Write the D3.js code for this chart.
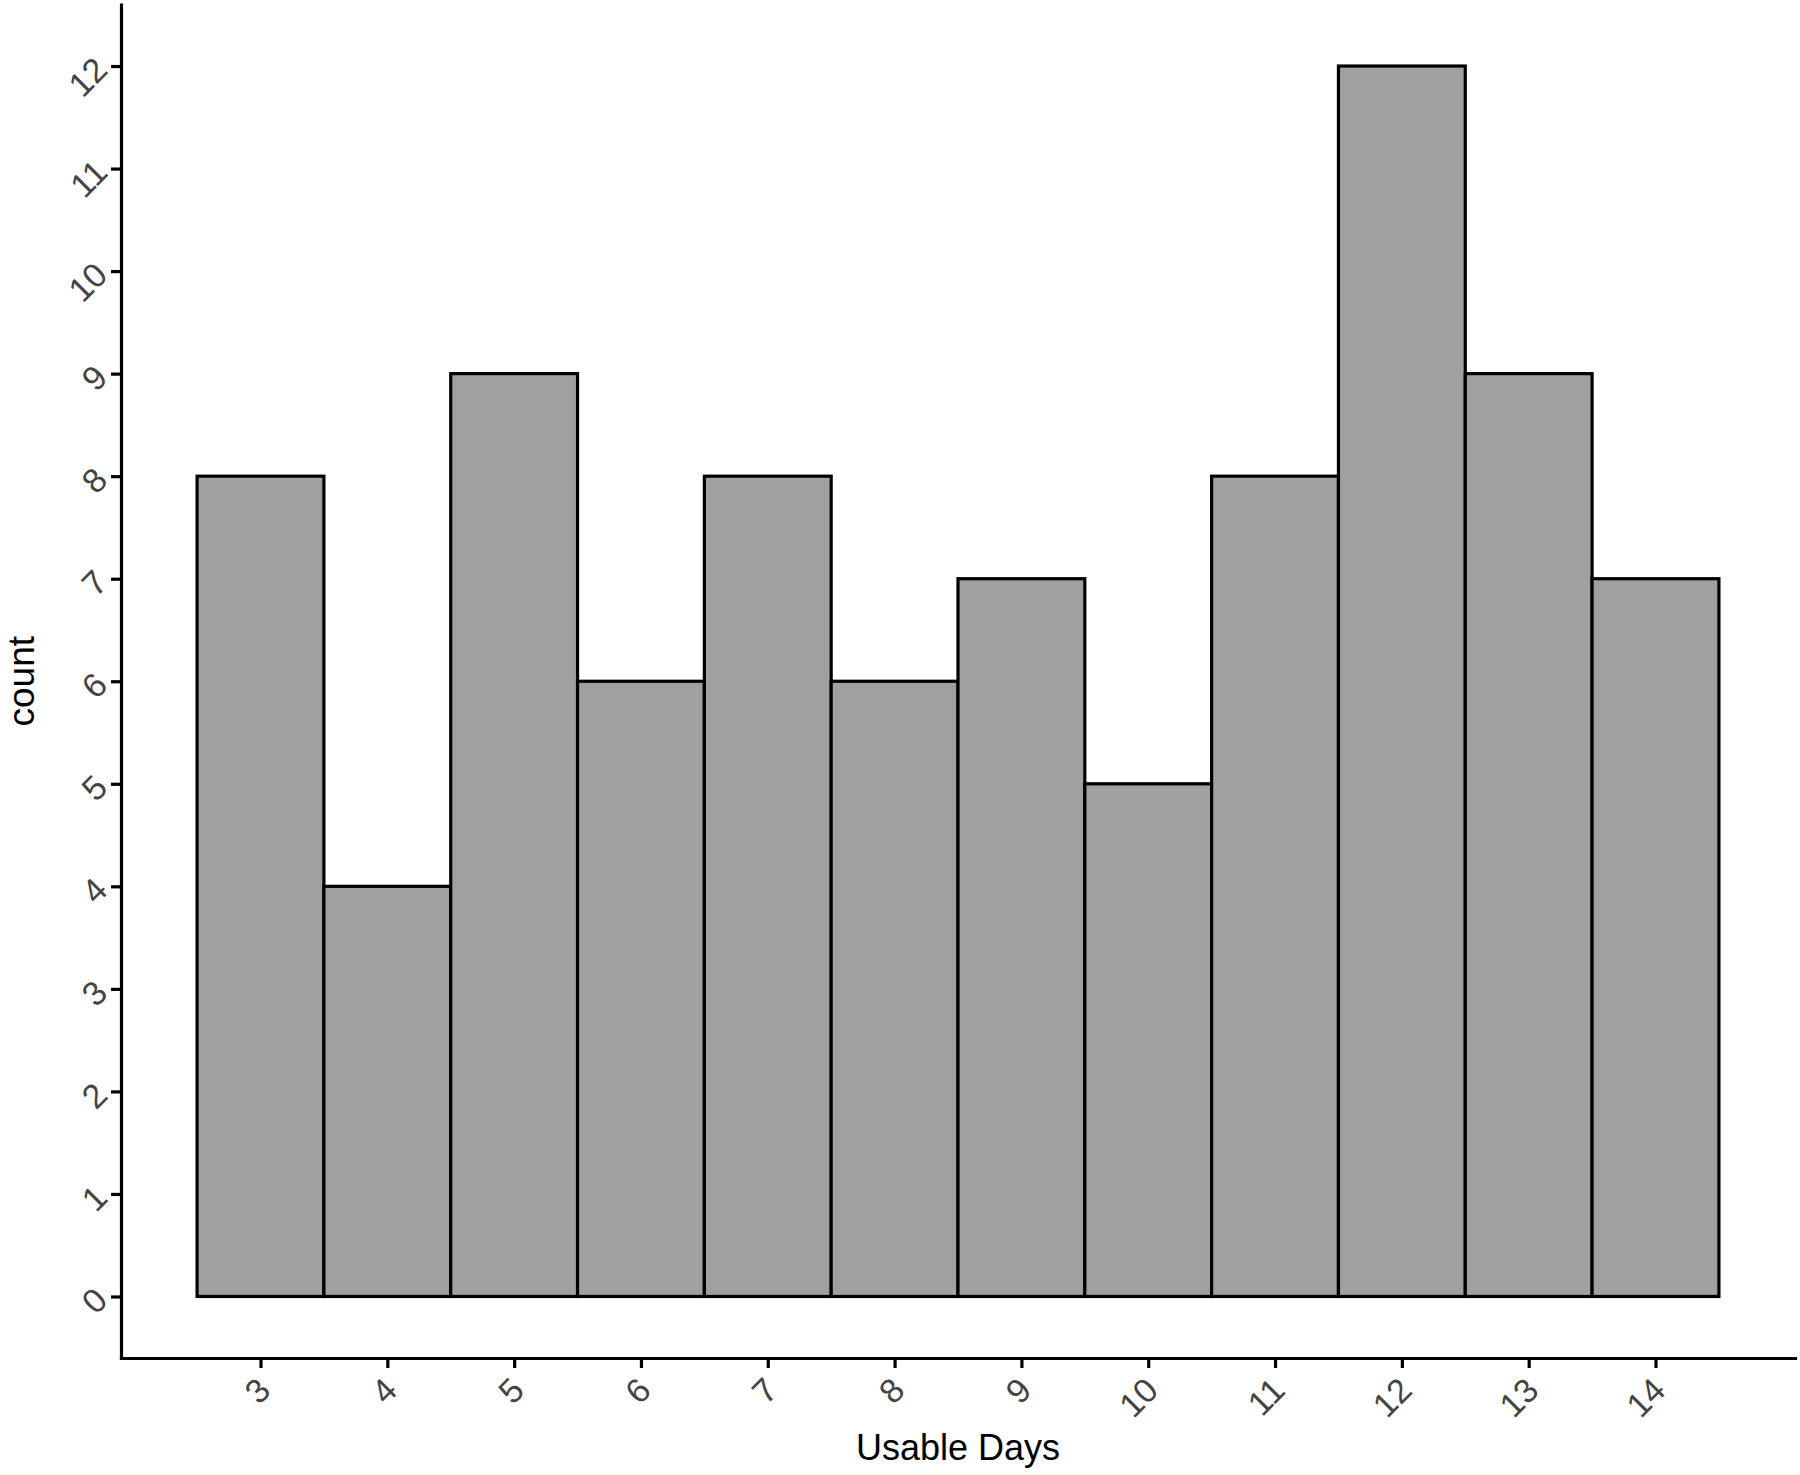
<!DOCTYPE html>
<html>
<head>
<meta charset="utf-8">
<script src="https://cdn.jsdelivr.net/npm/d3@7"></script>
<style>
  body { margin: 0; background: #fff; }
</style>
</head>
<body>
<svg id="chart" width="1800" height="1475"></svg>
<script>
// usable days histogram, one bar per day
var days = [3, 4, 5, 6, 7, 8, 9, 10, 11, 12, 13, 14];
var counts = [8, 4, 9, 6, 8, 6, 7, 5, 8, 12, 9, 7];
var yTicks = [0, 1, 2, 3, 4, 5, 6, 7, 8, 9, 10, 11, 12];

var svg = d3.select("#chart"),
    margin = {top: 4.5, right: 5, bottom: 117, left: 121},
    width = 1800 - margin.left - margin.right,
    height = 1475 - margin.top - margin.bottom;

// ggplot-style 5% expansion around [2.5, 14.5] and [0, 12]
var x = d3.scaleLinear().domain([1.9, 15.1]).range([0, width]),
    y = d3.scaleLinear().domain([-0.6, 12.6]).range([height, 0]);

var g = svg.append("g")
    .attr("transform", "translate(" + margin.left + "," + margin.top + ")");

var data = days.map(function(d, i) { return {day: d, count: counts[i]}; });

g.selectAll(".bar")
  .data(data)
  .enter().append("rect")
    .attr("class", "bar")
    .attr("x", function(d) { return x(d.day - 0.5); })
    .attr("width", function(d) { return x(d.day + 0.5) - x(d.day - 0.5); })
    .attr("y", function(d) { return y(d.count); })
    .attr("height", function(d) { return y(0) - y(d.count); })
    .style("fill", "#a0a0a0")
    .style("stroke", "#000")
    .style("stroke-width", 3.2);

var xAxis = g.append("g")
    .attr("transform", "translate(0," + height + ")")
    .call(d3.axisBottom(x).tickValues(days).tickSize(10).tickSizeOuter(0).tickFormat(d3.format("d")));

xAxis.selectAll(".tick text")
    .attr("text-anchor", "end")
    .attr("dy", "0.35em")
    .attr("y", 0)
    .attr("transform", "translate(3,26) rotate(-45)");

var yAxis = g.append("g")
    .call(d3.axisLeft(y).tickValues(yTicks).tickSize(10).tickSizeOuter(0).tickFormat(d3.format("d")));

yAxis.selectAll(".tick text")
    .attr("text-anchor", "end")
    .attr("dy", "0.35em")
    .attr("x", 0)
    .attr("transform", "translate(-20,-3) rotate(-45)");

svg.selectAll(".tick text")
    .style("font-family", "'Liberation Sans', Arial, sans-serif")
    .style("font-size", "34px")
    .style("fill", "#444");

svg.selectAll(".domain").style("stroke-width", 3.2).style("stroke-linecap", "square");
svg.selectAll(".tick line").style("stroke-width", 3.2);

svg.append("text")
  .attr("text-anchor", "middle")
  .attr("transform", "translate(" + [margin.left + width / 2, 1460] + ")")
  .style("font-family", "'Liberation Sans', Arial, sans-serif")
  .style("font-size", "36px")
  .text("Usable Days");

svg.append("text")
  .attr("text-anchor", "middle")
  .attr("transform", "translate(" + [34, margin.top + height / 2] + ") rotate(-90)")
  .style("font-family", "'Liberation Sans', Arial, sans-serif")
  .style("font-size", "37px")
  .text("count");
</script>
</body>
</html>
